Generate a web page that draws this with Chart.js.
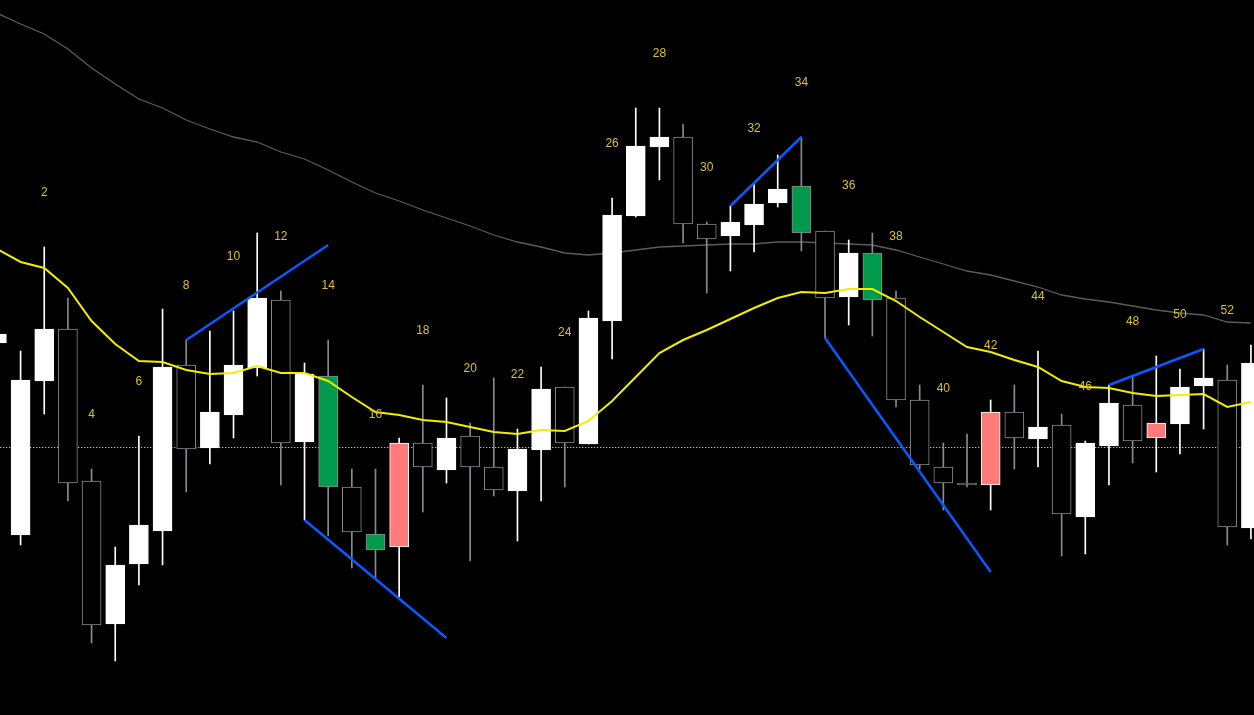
<!DOCTYPE html>
<html>
<head>
<meta charset="utf-8">
<script src="https://cdn.jsdelivr.net/npm/chart.js@4.4.1/dist/chart.umd.min.js"></script>
<style>
  html, body { margin: 0; padding: 0; background: #000; overflow: hidden; }
  #wrap { position: relative; width: 1254px; height: 715px; }
</style>
</head>
<body>
<div id="wrap"><canvas id="c"></canvas></div>
<script>
// ---- data (price units) ----
const barIndex = [0,1,2,3,4,5,6,7,8,9,10,11,12,13,14,15,16,17,18,19,20,21,22,23,24,25,26,27,28,29,30,31,32,33,34,35,36,37,38,39,40,41,42,43,44,45,46,47,48,49,50,51,52,53];
const opens  = [372,180,334,386,234, 91,151,184,350,267,300,347,415,273,339,228,181,168,272,245,279,248,224,265,328,271,394,499,568,578,491,479,490,512,529,484,418,462,417,315,248,232,230,303,276,290,198,269,310,277,291,329,335,187];
const highs  = [388,364,468,417,246,168,279,406,375,384,404,482,424,352,375,246,246,277,330,317,292,337,286,348,328,404,517,607,607,591,493,509,532,560,578,484,475,482,424,330,272,281,315,330,364,301,274,330,339,359,346,366,350,370];
const lows   = [365,170,301,214, 72, 54,130,150,223,251,277,339,230,195,179,147,136,118,203,232,154,219,174,214,228,271,356,498,535,472,422,444,463,508,464,377,390,379,308,246,205,228,205,246,248,159,161,230,252,243,261,286,170,176];
const closes = [381,335,386,232, 90,150,190,348,266,303,350,417,272,341,228,183,165,272,248,277,248,225,266,326,272,397,500,569,578,491,476,493,511,526,482,417,462,415,315,250,232,230,303,277,288,201,272,312,274,292,328,337,188,352];
const fastMA = [466,453,447,427,394,371,354,353,345,341,342,349,342,342,334,318,303,300,295,293,288,283,281,285,284,294,314,338,362,375,385,396,407,417,423,422,426,426,414,398,383,368,363,355,348,334,328,327,322,319,320,321,308,313];
const slowMA = [702,691,681,666,647,631,616,607,595,586,578,573,563,556,545,533,522,514,505,497,489,480,473,468,462,460,462,465,468,469,470,471,471,473,473,472,471,470,465,458,451,444,440,434,428,420,416,413,409,405,402,400,393,392];
const greenBars = [14,16,34,37];
const pinkBars = [17,42,49];
const refLevel = 267.5;
const labelIdx = [2,4,6,8,10,12,14,16,18,20,22,24,26,28,30,32,34,36,38,40,42,44,46,48,50,52];
const barLabels = ['2','4','6','8','10','12','14','16','18','20','22','24','26','28','30','32','34','36','38','40','42','44','46','48','50','52'];
const trendLines = [
  [[8,375],[14,470]],
  [[13,195],[19,77]],
  [[31,509],[34,578]],
  [[35,377],[42,143]],
  [[47,330],[51,366]]
];

// ---- styling ----
const GRAY = '#8a8a8e';
function kind(i) {
  if (greenBars.includes(i)) return 'green';
  if (pinkBars.includes(i)) return 'pink';
  return closes[i] >= opens[i] ? 'up' : 'down';
}
const bodyFill = barIndex.map(i => ({up:'#ffffff', down:'#000000', green:'#009a4c', pink:'#ff7b7b'})[kind(i)]);
const bodyBorder = barIndex.map(i => ({up:'#ffffff', down:GRAY, green:GRAY, pink:'#ffffff'})[kind(i)]);
const wickColor = barIndex.map(i => ({up:'#ffffff', down:GRAY, green:GRAY, pink:'#ffffff'})[kind(i)]);

const datasets = [];
datasets.push({
  type:'line', label:'ref', order: 20,
  data:[{x:-1,y:refLevel},{x:55,y:refLevel}],
  borderColor:'#f0f0f0', borderWidth:1, borderDash:[1,2], pointRadius:0
});
datasets.push({
  type:'line', label:'slow', order: 19,
  data: barIndex.map(i => ({x:i, y:slowMA[i]})),
  borderColor:'#5c5c5c', borderWidth:1.3, pointRadius:0, tension:0
});
datasets.push({
  type:'bar', label:'wicks', order: 18, grouped:false,
  data: barIndex.map(i => ({x:i, y:[lows[i], highs[i]]})),
  backgroundColor: wickColor, borderWidth:0, barThickness:1
});
datasets.push({
  type:'bar', label:'bodies', order: 17, grouped:false,
  data: barIndex.map(i => ({x:i, y:[Math.min(opens[i],closes[i]), Math.max(opens[i],closes[i]) + (opens[i]===closes[i]?1:0)]})),
  backgroundColor: bodyFill, borderColor: bodyBorder, borderWidth:1, borderSkipped:false, barThickness:19
});
datasets.push({
  type:'line', label:'fast', order: 16,
  data: barIndex.map(i => ({x:i, y:fastMA[i]})),
  borderColor:'#f2ee00', borderWidth:2, pointRadius:0, tension:0
});
trendLines.forEach((ln, k) => {
  datasets.push({
    type:'line', label:'trend'+k, order: 10,
    data: ln.map(p => ({x:p[0], y:p[1]})),
    borderColor:'#0a58ff', borderWidth:2.5, pointRadius:0
  });
});

const labelPlugin = {
  id:'barLabels',
  afterDatasetsDraw(chart) {
    const {ctx, scales:{x, y}} = chart;
    ctx.save();
    ctx.fillStyle = '#dcc02a';
    ctx.font = '12px "Liberation Sans", Arial, sans-serif';
    ctx.textAlign = 'center';
    ctx.textBaseline = 'middle';
    labelIdx.forEach((idx, k) => {
      const px = x.getPixelForValue(idx);
      const py = y.getPixelForValue(highs[idx]) - 54;
      ctx.fillText(barLabels[k], px, py);
    });
    ctx.restore();
  }
};

new Chart(document.getElementById('c'), {
  type:'bar',
  data:{ datasets },
  options:{
    responsive:true, maintainAspectRatio:false, animation:false,
    devicePixelRatio:1,
    layout:{ padding:0 },
    parsing:true,
    plugins:{ legend:{display:false}, tooltip:{enabled:false} },
    scales:{
      x:{ type:'linear', min:0.13, max:53.13, display:false, offset:false },
      y:{ type:'linear', min:0, max:715, display:false }
    }
  },
  plugins:[labelPlugin]
});
</script>
</body>
</html>
